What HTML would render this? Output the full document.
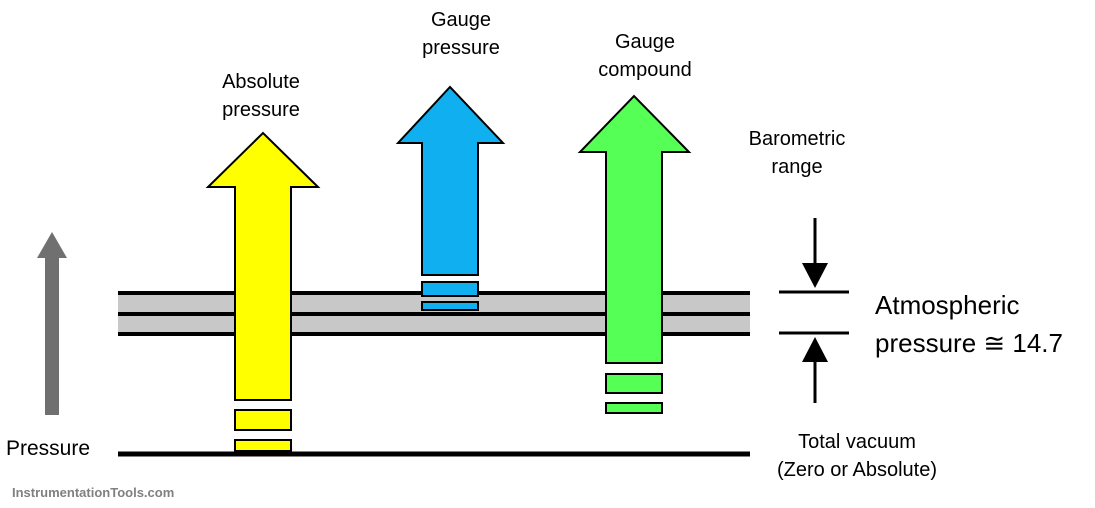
<!DOCTYPE html>
<html><head><style>
body{margin:0;background:#fff;}
svg{display:block;font-family:"Liberation Sans",sans-serif;}
</style></head><body>
<svg width="1095" height="508" viewBox="0 0 1095 508">
<rect x="118" y="293" width="632" height="41" fill="#c8c8c8"/>
<line x1="118" y1="293" x2="750" y2="293" stroke="#000" stroke-width="4"/>
<line x1="118" y1="314" x2="750" y2="314" stroke="#000" stroke-width="4"/>
<line x1="118" y1="334" x2="750" y2="334" stroke="#000" stroke-width="4"/>
<line x1="118" y1="454" x2="750" y2="454" stroke="#000" stroke-width="5"/>
<!-- gray arrow -->
<polygon points="45,415 45,258 37,258 52,232 67,258 59,258 59,415" fill="#707070"/>
<!-- yellow -->
<g fill="#ffff00" stroke="#000" stroke-width="2">
<polygon points="235,400 235,187 208,187 263,133 318,187 291,187 291,400"/>
<rect x="235" y="410" width="56" height="20"/>
<rect x="235" y="440" width="56" height="11"/>
</g>
<!-- blue -->
<g fill="#10b0f0" stroke="#000" stroke-width="2">
<polygon points="422,275 422,143 398,143 450,87 503,143 478,143 478,275"/>
<rect x="422" y="282" width="56" height="14"/>
<rect x="422" y="302" width="56" height="8"/>
</g>
<!-- green -->
<g fill="#55ff55" stroke="#000" stroke-width="2">
<polygon points="606,363 606,152 580,152 634,96 689,152 662,152 662,363"/>
<rect x="606" y="374" width="56" height="19"/>
<rect x="606" y="403" width="56" height="10"/>
</g>
<!-- barometric -->
<line x1="779" y1="292" x2="849" y2="292" stroke="#000" stroke-width="3"/>
<line x1="779" y1="333" x2="849" y2="333" stroke="#000" stroke-width="3"/>
<line x1="815" y1="218" x2="815" y2="265" stroke="#000" stroke-width="3"/>
<polygon points="802,263 828,263 815,288" fill="#000"/>
<line x1="815" y1="360" x2="815" y2="403" stroke="#000" stroke-width="3"/>
<polygon points="802,362 828,362 815,337" fill="#000"/>
<g font-size="20" fill="#000" text-anchor="middle">
<text x="261" y="88">Absolute</text><text x="261" y="116">pressure</text>
<text x="461" y="26">Gauge</text><text x="461" y="54">pressure</text>
<text x="645" y="48">Gauge</text><text x="645" y="76">compound</text>
<text x="797" y="145">Barometric</text><text x="797" y="173">range</text>
<text x="857" y="448">Total vacuum</text><text x="857" y="476">(Zero or Absolute)</text>
</g>
<text x="6" y="455" font-size="21">Pressure</text>
<text x="875" y="314" font-size="26">Atmospheric</text>
<text x="875" y="352" font-size="26">pressure ≅ 14.7</text>
<text x="12" y="497" font-size="13" font-weight="bold" fill="#808080">InstrumentationTools.com</text>
</svg>
</body></html>
